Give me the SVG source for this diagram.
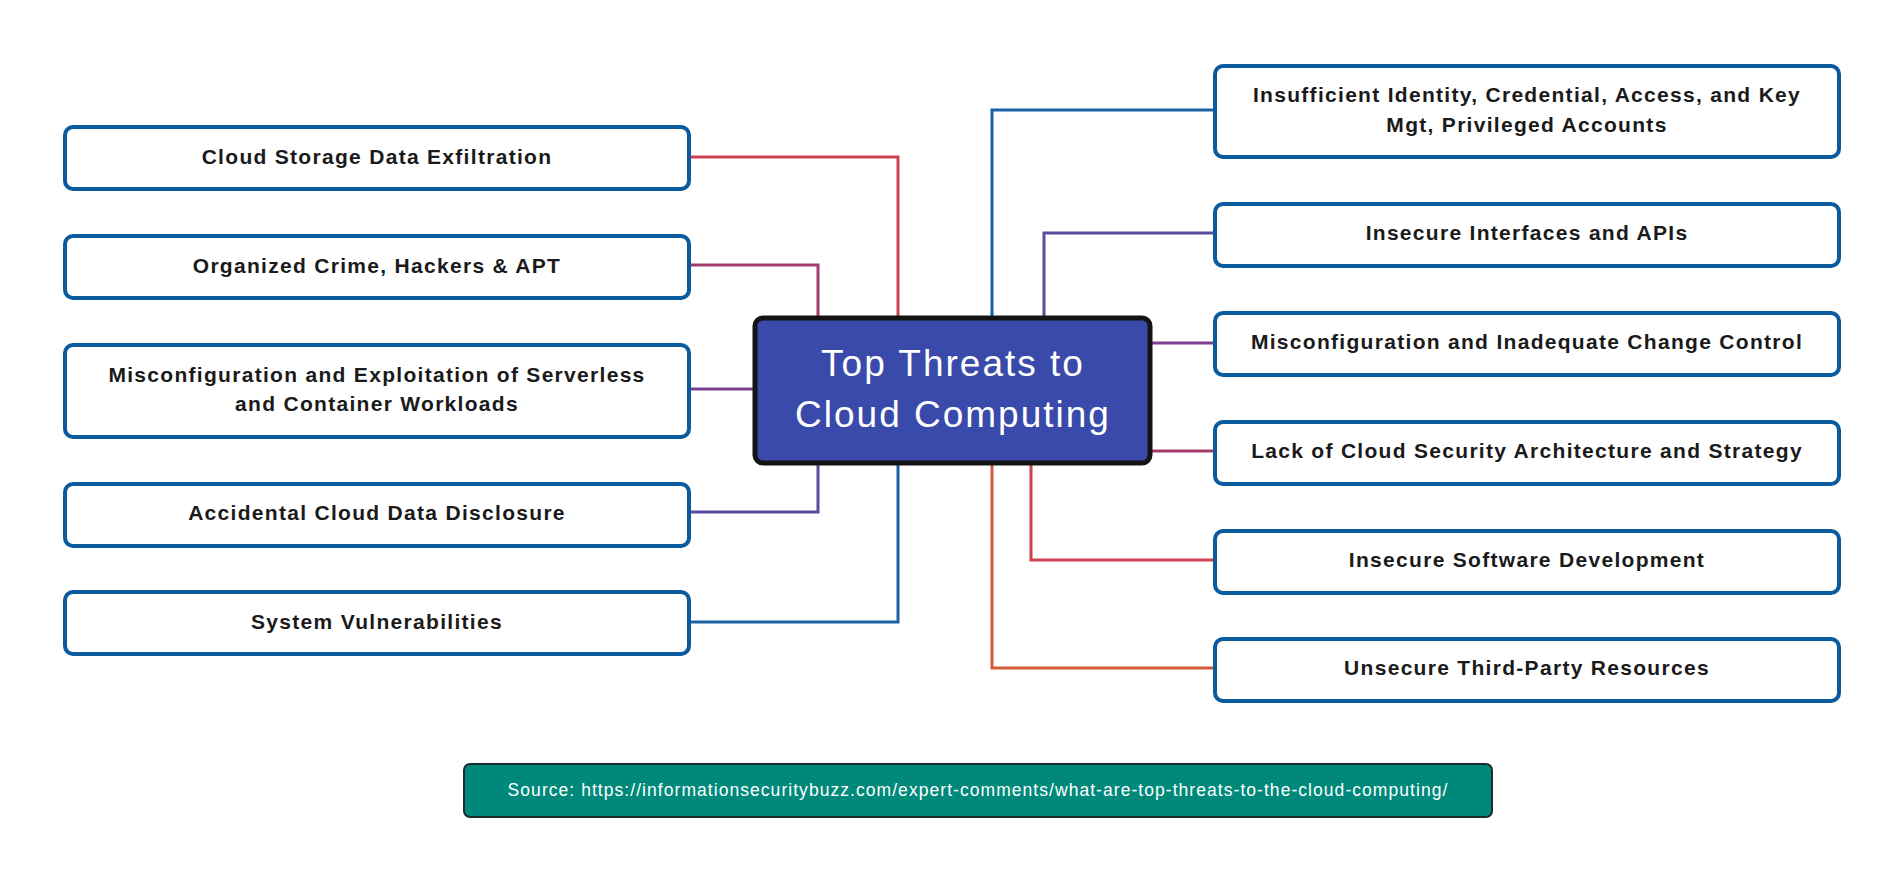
<svg xmlns="http://www.w3.org/2000/svg" width="1902" height="880" viewBox="0 0 1902 880">
<style>
.box{fill:#fff;stroke:#0a5a9e;stroke-width:4}
.lbl{font-family:"Liberation Sans",Arial,sans-serif;font-weight:bold;font-size:21px;letter-spacing:1.3px;fill:#1a1a1a;text-anchor:middle}
.c{fill:none;stroke-width:3}
.title{font-family:"Liberation Sans",Arial,sans-serif;font-size:37px;letter-spacing:2px;fill:#fff;text-anchor:middle}
.src{font-family:"Liberation Sans",Arial,sans-serif;font-size:17.5px;letter-spacing:1.05px;fill:#fff;text-anchor:middle}
</style>
<rect width="1902" height="880" fill="#fff"/>
<g id="connectors">
<polyline class="c" stroke="#cc4150" points="690,157 898,157 898,317"/>
<polyline class="c" stroke="#a33c6c" points="690,265 818,265 818,317"/>
<polyline class="c" stroke="#7d4090" points="690,389 754,389"/>
<polyline class="c" stroke="#5a4c9e" points="690,512 818,512 818,464"/>
<polyline class="c" stroke="#1a62a3" points="690,622 898,622 898,464"/>
<polyline class="c" stroke="#1a62a3" points="1214,110 992,110 992,317"/>
<polyline class="c" stroke="#5a4c9e" points="1214,233 1044,233 1044,317"/>
<polyline class="c" stroke="#7d4090" points="1151,343 1214,343"/>
<polyline class="c" stroke="#a33c6c" points="1151,451 1214,451"/>
<polyline class="c" stroke="#cc4150" points="1214,560 1031,560 1031,464"/>
<polyline class="c" stroke="#d35a32" points="1214,668 992,668 992,464"/>
</g>
<g id="center">
<rect x="755" y="318" width="395" height="145" rx="8" fill="#3a4aab" stroke="#141414" stroke-width="5"/>
<text class="title" x="953" y="376">Top Threats to</text>
<text class="title" x="953" y="427">Cloud Computing</text>
</g>
<g id="l1"><rect class="box" x="65" y="127" width="624" height="62" rx="8"/><text class="lbl" x="377" y="164">Cloud Storage Data Exfiltration</text></g>
<g id="l2"><rect class="box" x="65" y="236" width="624" height="62" rx="8"/><text class="lbl" x="377" y="273">Organized Crime, Hackers &amp; APT</text></g>
<g id="l3"><rect class="box" x="65" y="345" width="624" height="92" rx="8"/><text class="lbl" x="377" y="382">Misconfiguration and Exploitation of Serverless</text><text class="lbl" x="377" y="411">and Container Workloads</text></g>
<g id="l4"><rect class="box" x="65" y="484" width="624" height="62" rx="8"/><text class="lbl" x="377" y="520">Accidental Cloud Data Disclosure</text></g>
<g id="l5"><rect class="box" x="65" y="592" width="624" height="62" rx="8"/><text class="lbl" x="377" y="629">System Vulnerabilities</text></g>
<g id="r1"><rect class="box" x="1215" y="66" width="624" height="91" rx="8"/><text class="lbl" x="1527" y="102">Insufficient Identity, Credential, Access, and Key</text><text class="lbl" x="1527" y="132">Mgt, Privileged Accounts</text></g>
<g id="r2"><rect class="box" x="1215" y="204" width="624" height="62" rx="8"/><text class="lbl" x="1527" y="240">Insecure Interfaces and APIs</text></g>
<g id="r3"><rect class="box" x="1215" y="313" width="624" height="62" rx="8"/><text class="lbl" x="1527" y="349">Misconfiguration and Inadequate Change Control</text></g>
<g id="r4"><rect class="box" x="1215" y="422" width="624" height="62" rx="8"/><text class="lbl" x="1527" y="458">Lack of Cloud Security Architecture and Strategy</text></g>
<g id="r5"><rect class="box" x="1215" y="531" width="624" height="62" rx="8"/><text class="lbl" x="1527" y="567">Insecure Software Development</text></g>
<g id="r6"><rect class="box" x="1215" y="639" width="624" height="62" rx="8"/><text class="lbl" x="1527" y="675">Unsecure Third-Party Resources</text></g>
<g id="source">
<rect x="464" y="764" width="1028" height="53" rx="6" fill="#00897a" stroke="#1c2b2b" stroke-width="2"/>
<text class="src" x="978" y="796">Source: https://informationsecuritybuzz.com/expert-comments/what-are-top-threats-to-the-cloud-computing/</text>
</g>
</svg>
